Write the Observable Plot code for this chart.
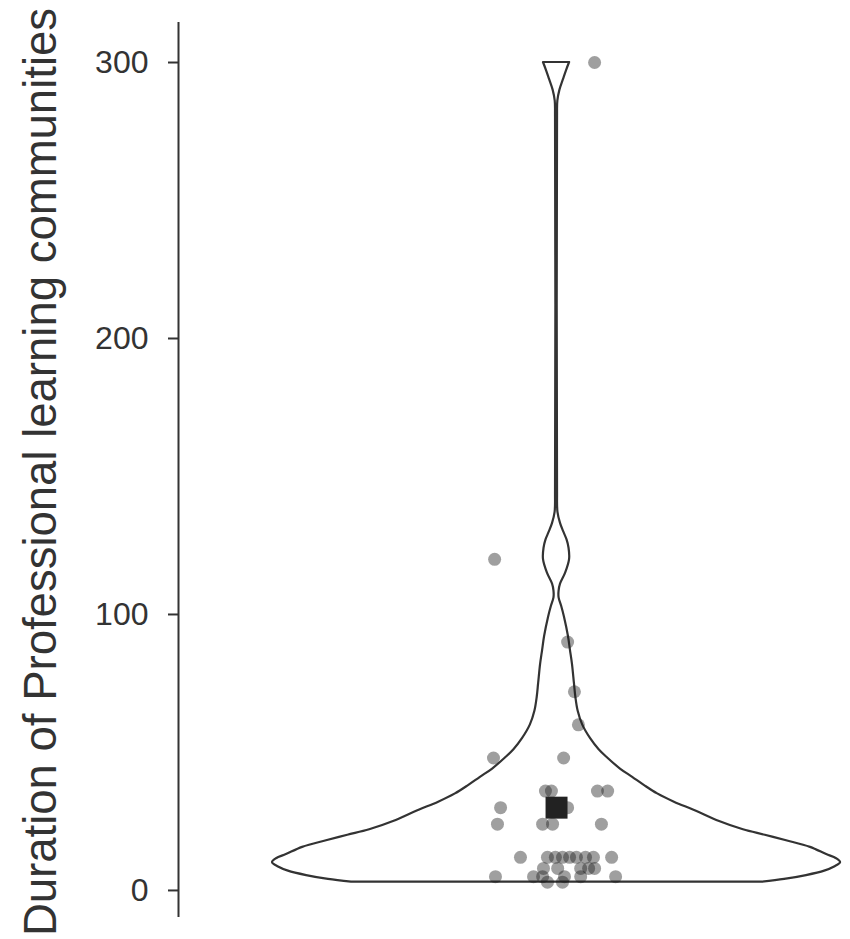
<!DOCTYPE html>
<html>
<head>
<meta charset="utf-8">
<script src="https://cdn.jsdelivr.net/npm/d3@7"></script>
<script src="https://cdn.jsdelivr.net/npm/@observablehq/plot@0.6"></script>
<style>
  html, body { margin: 0; padding: 0; background: #fff; }
  #chart svg { display: block; }
  #chart svg [aria-label^="y-axis"] line,
  #chart svg [aria-label="y-axis tick"] path { stroke-width: 2px; }
</style>
</head>
<body>
<div id="chart"></div>
<script>
// ---- data ----
const yTitle = "Duration of Professional learning communities";
const yTicks = [0, 100, 200, 300];

// violin outline: value and relative half-width (density, max = 1)
const violinValue = [3, 4, 5.4, 7, 8.5, 10.1, 11.5, 13, 15.6, 18, 20, 22, 25, 29, 32, 35, 38, 41, 44, 48, 51, 55, 60, 65, 70, 75, 82, 87, 92, 99, 103, 106, 108.5, 111, 115, 120, 124, 127, 130, 133, 137, 145, 280, 286, 290, 294, 297, 300];
const violinWidth = [0.722, 0.803, 0.880, 0.944, 0.979, 1.0, 0.986, 0.951, 0.894, 0.810, 0.735, 0.658, 0.574, 0.486, 0.415, 0.356, 0.310, 0.268, 0.225, 0.180, 0.150, 0.120, 0.092, 0.076, 0.068, 0.063, 0.056, 0.049, 0.042, 0.028, 0.018, 0.009, 0.009, 0.014, 0.032, 0.046, 0.044, 0.037, 0.025, 0.014, 0.005, 0.0035, 0.0035, 0.0046, 0.012, 0.025, 0.035, 0.046];

// individual observations (value, horizontal jitter in violin-width units)
const pointValue  = [300, 120, 90, 72, 60, 48, 48, 36, 36, 36, 36, 30, 30, 24, 24, 24, 24,
                     12, 12, 12, 12, 12, 12, 12, 12, 12,
                     8, 8, 8, 8, 8,
                     5, 5, 5, 5, 5, 5,
                     3, 3];
const pointJitter = [0.134, -0.218, 0.039, 0.063, 0.077, -0.222, 0.025, -0.039, -0.018, 0.144, 0.180, -0.197, 0.039, -0.208, -0.049, -0.014, 0.158,
                     -0.127, -0.032, -0.004, 0.021, 0.046, 0.070, 0.102, 0.130, 0.194,
                     -0.046, 0.004, 0.085, 0.113, 0.134,
                     -0.215, -0.081, -0.049, 0.028, 0.085, 0.208,
                     -0.032, 0.021];

// mean marker
const meanValue = [30];
const meanJitter = [0];

// ---- build tables ----
const violin = violinValue.map((v, i) => ({v, w: violinWidth[i]}));
const points = pointValue.map((v, i) => ({v, j: pointJitter[i]}));
const means = meanValue.map((v, i) => ({v, j: meanJitter[i]}));

const chart = Plot.plot({
  width: 850,
  height: 939,
  marginTop: 22,
  marginBottom: 22,
  marginLeft: 178,
  marginRight: 0,
  style: {
    fontFamily: "'Liberation Sans', Arial, Helvetica, sans-serif",
    fontSize: "32px",
    color: "#333",
    background: "#fff",
    overflow: "visible"
  },
  x: {domain: [-1.331, 1.035], axis: null},
  y: {domain: [-9.8, 314.5], ticks: yTicks, tickSize: 10, tickPadding: 20, label: null, tickFormat: d => String(d)},
  marks: [
    Plot.ruleX([-1.331], {stroke: "#333", strokeWidth: 2}),
    Plot.areaX(violin, {
      y: "v",
      x1: d => -d.w,
      x2: d => d.w,
      fill: "#fff",
      stroke: "#333",
      strokeWidth: 2.2,
      curve: "catmull-rom"
    }),
    Plot.dot(points, {x: "j", y: "v", r: 6.5, fill: "#1a1a1a", fillOpacity: 0.42, stroke: "none"}),
    Plot.dot(means, {x: "j", y: "v", symbol: "square", r: 12.4, fill: "#222", stroke: "none"}),
    Plot.text([yTitle], {
      frameAnchor: "left",
      textAnchor: "middle",
      rotate: -90,
      dx: -137,
      dy: 2,
      fontSize: 45.5,
      fill: "#333"
    })
  ]
});

document.getElementById("chart").appendChild(chart);
</script>
</body>
</html>
